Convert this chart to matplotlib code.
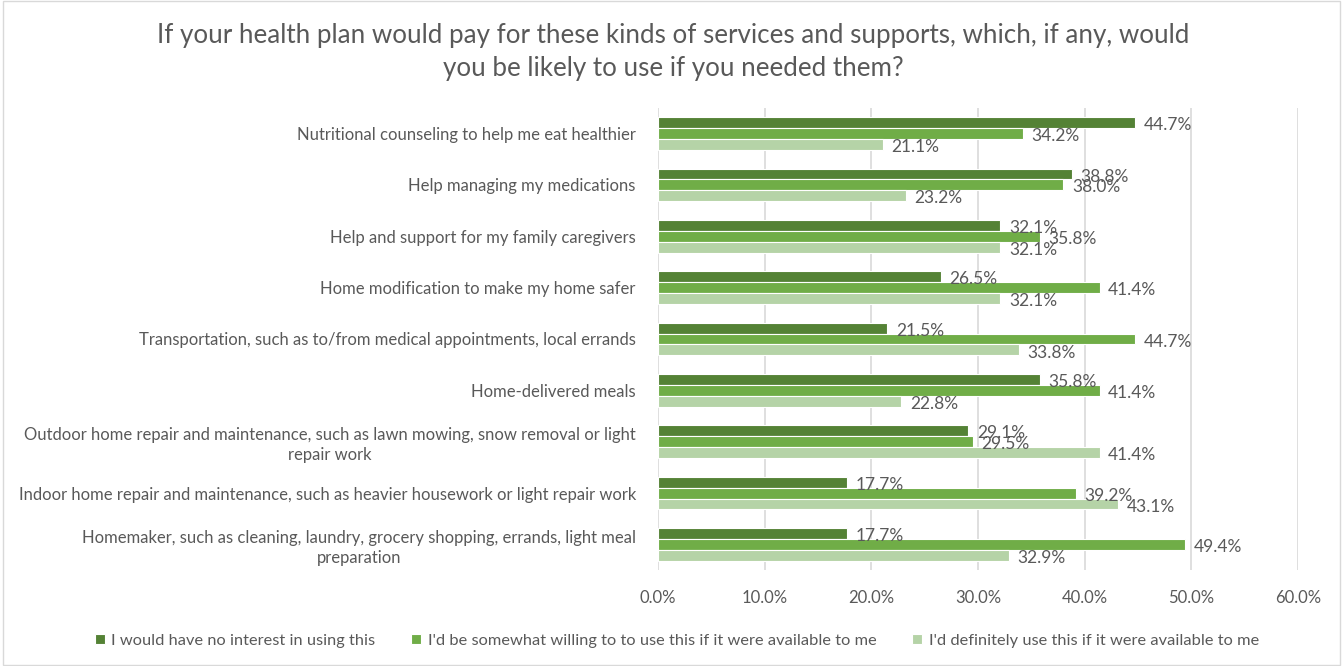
import matplotlib.pyplot as plt
import numpy as np

plt.rcParams['font.family'] = ['Lato', 'DejaVu Sans']

categories = [
    "Nutritional counseling to help me eat healthier",
    "Help managing my medications",
    "Help and support for my family caregivers",
    "Home modification to make my home safer",
    "Transportation, such as to/from medical appointments, local errands",
    "Home-delivered meals",
    "Outdoor home repair and maintenance, such as lawn mowing, snow removal or light\nrepair work",
    "Indoor home repair and maintenance, such as heavier housework or light repair work",
    "Homemaker, such as cleaning, laundry, grocery shopping, errands, light meal\npreparation",
]
no_interest = [44.7, 38.8, 32.1, 26.5, 21.5, 35.8, 29.1, 17.7, 17.7]
somewhat = [34.2, 38.0, 35.8, 41.4, 44.7, 41.4, 29.5, 39.2, 49.4]
definitely = [21.1, 23.2, 32.1, 32.1, 33.8, 22.8, 41.4, 43.1, 32.9]
series_names = [
    "I would have no interest in using this",
    "I'd be somewhat willing to to use this if it were available to me",
    "I'd definitely use this if it were available to me",
]
colors = ['#548235', '#70AD47', '#B5D3A7']
text_col = '#595959'

fig = plt.figure(figsize=(13.43, 6.66), dpi=100)
ax = fig.add_axes([0.490, 0.144, 0.4765, 0.694])

y = np.arange(len(categories))
h = 0.213
for i, (vals, name, c) in enumerate(zip([no_interest, somewhat, definitely], series_names, colors)):
    pos = y + (i - 1) * h
    ax.barh(pos, vals, height=h, color=c, edgecolor='white', linewidth=0.8, label=name, zorder=3)
    for p, v in zip(pos, vals):
        ax.text(v + 0.8, p + 0.05, f"{v:.1f}%", va='center', ha='left',
                fontsize=12.5, color=text_col, zorder=4)

ax.set_xlim(0, 60)
ax.set_ylim(len(categories) - 0.5, -0.5)
ax.set_xticks(np.arange(0, 61, 10))
ax.set_xticklabels([f"{t:.1f}%" for t in np.arange(0, 61, 10)])
ax.set_yticks(y)
ax.set_yticklabels(categories, fontsize=12, color=text_col, linespacing=1.3,
                   multialignment='center')
ax.tick_params(axis='x', labelsize=12, colors=text_col, length=0, pad=14)
ax.tick_params(axis='y', length=0, pad=16)
ax.grid(axis='x', color='#D9D9D9', linewidth=1.2, zorder=0)
for s in ax.spines.values():
    s.set_visible(False)

fig.suptitle("If your health plan would pay for these kinds of services and supports, which, if any, would\n"
             "you be likely to use if you needed them?",
             x=0.501, y=0.965, fontsize=18.7, color=text_col, linespacing=1.4)

leg = fig.legend(loc='lower center', bbox_to_anchor=(0.504, 0.005), ncol=3, frameon=False,
                 fontsize=11.8, handlelength=0.6, handleheight=0.6, columnspacing=2.2,
                 handletextpad=0.4)
for t in leg.get_texts():
    t.set_color(text_col)

border = plt.Rectangle((0.002, 0.002), 0.996, 0.996, transform=fig.transFigure,
                       fill=False, edgecolor='#D9D9D9', linewidth=1)
fig.patches.append(border)

fig.savefig('out.png', dpi=100, facecolor='white')
